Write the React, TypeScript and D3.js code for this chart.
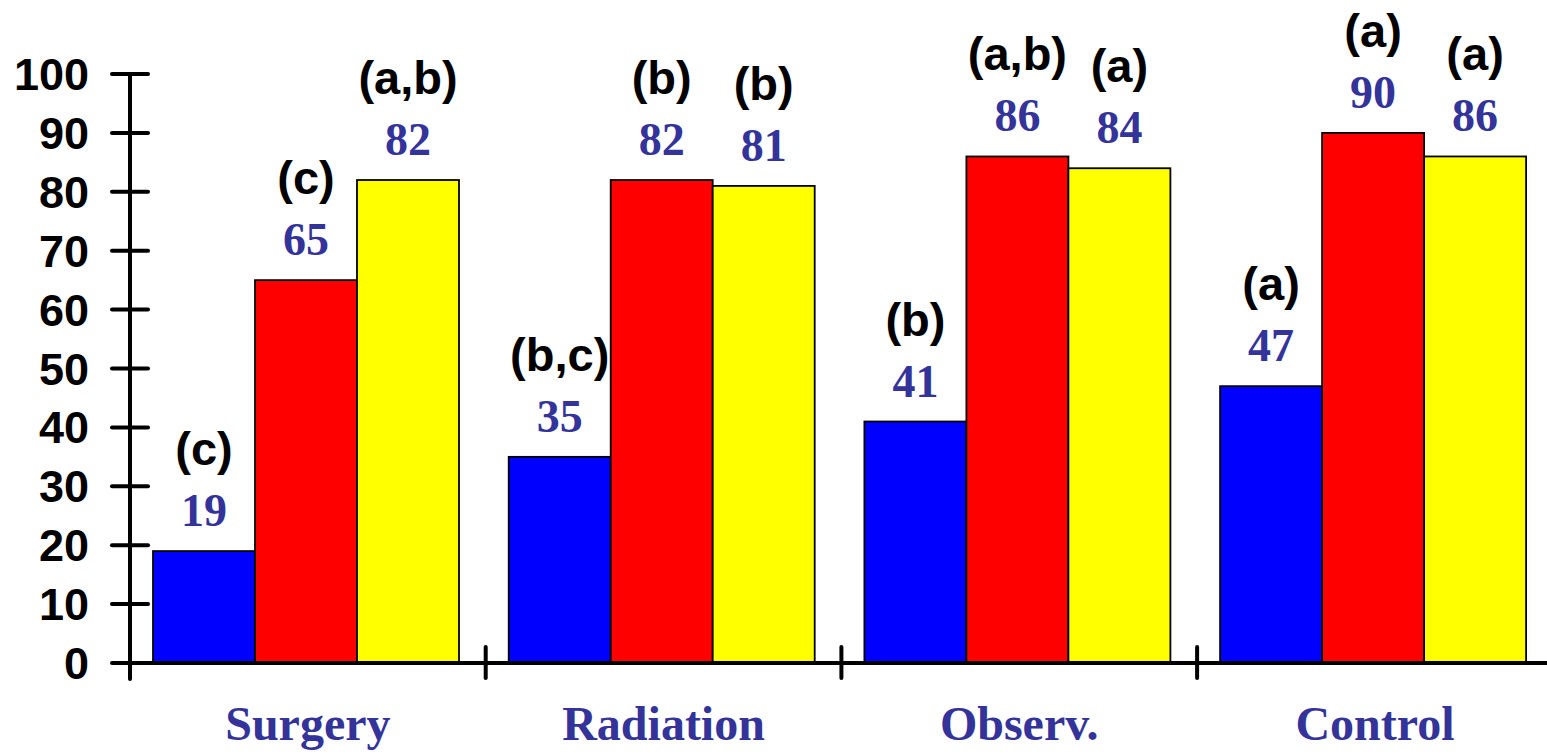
import React from "react";
import * as d3 from "d3";

const categories = ["Surgery", "Radiation", "Observ.", "Control"];
const seriesNames = ["blue", "red", "yellow"];
const blueValues = [19, 35, 41, 47];
const redValues = [65, 82, 86, 90];
const yellowValues = [82, 81, 84, 86];
const blueLetters = ["(c)", "(b,c)", "(b)", "(a)"];
const redLetters = ["(c)", "(b)", "(a,b)", "(a)"];
const yellowLetters = ["(a,b)", "(b)", "(a)", "(a)"];
const yTicks = [0, 10, 20, 30, 40, 50, 60, 70, 80, 90, 100];

const W = 1547;
const H = 755;
const colors: Record<string, string> = { blue: "#0000FF", red: "#FF0000", yellow: "#FFFF00" };
const valueColor = "#333399";

export default function App() {
  const x0 = d3.scaleBand<string>().domain(categories).range([130, 1552.8]).padding(0);
  const bw = x0.bandwidth();
  const x1 = d3.scaleBand<string>().domain(seriesNames).range([23, 23 + 306]).padding(0);
  const y = d3.scaleLinear().domain([0, 100]).range([663, 74]);

  const seriesValues = [blueValues, redValues, yellowValues];
  const seriesLetters = [blueLetters, redLetters, yellowLetters];

  const bars: { cat: string; s: string; v: number; letter: string }[] = [];
  categories.forEach((c, ci) => {
    seriesNames.forEach((s, si) => {
      bars.push({ cat: c, s, v: seriesValues[si][ci], letter: seriesLetters[si][ci] });
    });
  });

  const dividers = categories.slice(1).map((c) => x0(c)!);

  return (
    <svg width={W} height={H} style={{ position: "absolute", left: 0, top: 0, display: "block", background: "#fff" }}>
      {bars.map((b, i) => {
        const bx = x0(b.cat)! + x1(b.s)!;
        return (
          <rect
            key={"r" + i}
            x={bx}
            y={y(b.v)}
            width={x1.bandwidth()}
            height={y(0) - y(b.v)}
            fill={colors[b.s]}
            stroke="#000"
            strokeWidth={1.8}
          />
        );
      })}
      {bars.map((b, i) => {
        const cx = x0(b.cat)! + x1(b.s)! + x1.bandwidth() / 2;
        return (
          <g key={"t" + i}>
            <text
              x={cx}
              y={y(b.v) - 25}
              textAnchor="middle"
              fontFamily="'Liberation Serif', 'Times New Roman', serif"
              fontWeight="bold"
              fontSize={46}
              fill={valueColor}
            >
              {b.v}
            </text>
            <text
              x={cx}
              y={y(b.v) - 86}
              textAnchor="middle"
              fontFamily="'Liberation Sans', Arial, sans-serif"
              fontWeight="bold"
              fontSize={47}
              fill="#000"
            >
              {b.letter}
            </text>
          </g>
        );
      })}
      <line x1={130} x2={130} y1={y(100)} y2={679} stroke="#000" strokeWidth={4} strokeLinecap="round" />
      {yTicks.map((t) => (
        <g key={"yt" + t}>
          <line x1={112} x2={148} y1={y(t)} y2={y(t)} stroke="#000" strokeWidth={4} strokeLinecap="round" />
          <text
            x={89}
            y={y(t) + 16}
            textAnchor="end"
            fontFamily="'Liberation Sans', Arial, sans-serif"
            fontWeight="bold"
            fontSize={45}
            fill="#000"
          >
            {t}
          </text>
        </g>
      ))}
      <line x1={130} x2={W} y1={y(0)} y2={y(0)} stroke="#000" strokeWidth={4} />
      {dividers.map((d, i) => (
        <line key={"d" + i} x1={d} x2={d} y1={647} y2={678} stroke="#000" strokeWidth={4} strokeLinecap="round" />
      ))}
      {categories.map((c) => (
        <text
          key={"c" + c}
          x={x0(c)! + bw / 2}
          y={740}
          textAnchor="middle"
          fontFamily="'Liberation Serif', 'Times New Roman', serif"
          fontWeight="bold"
          fontSize={48}
          fill={valueColor}
        >
          {c}
        </text>
      ))}
    </svg>
  );
}
